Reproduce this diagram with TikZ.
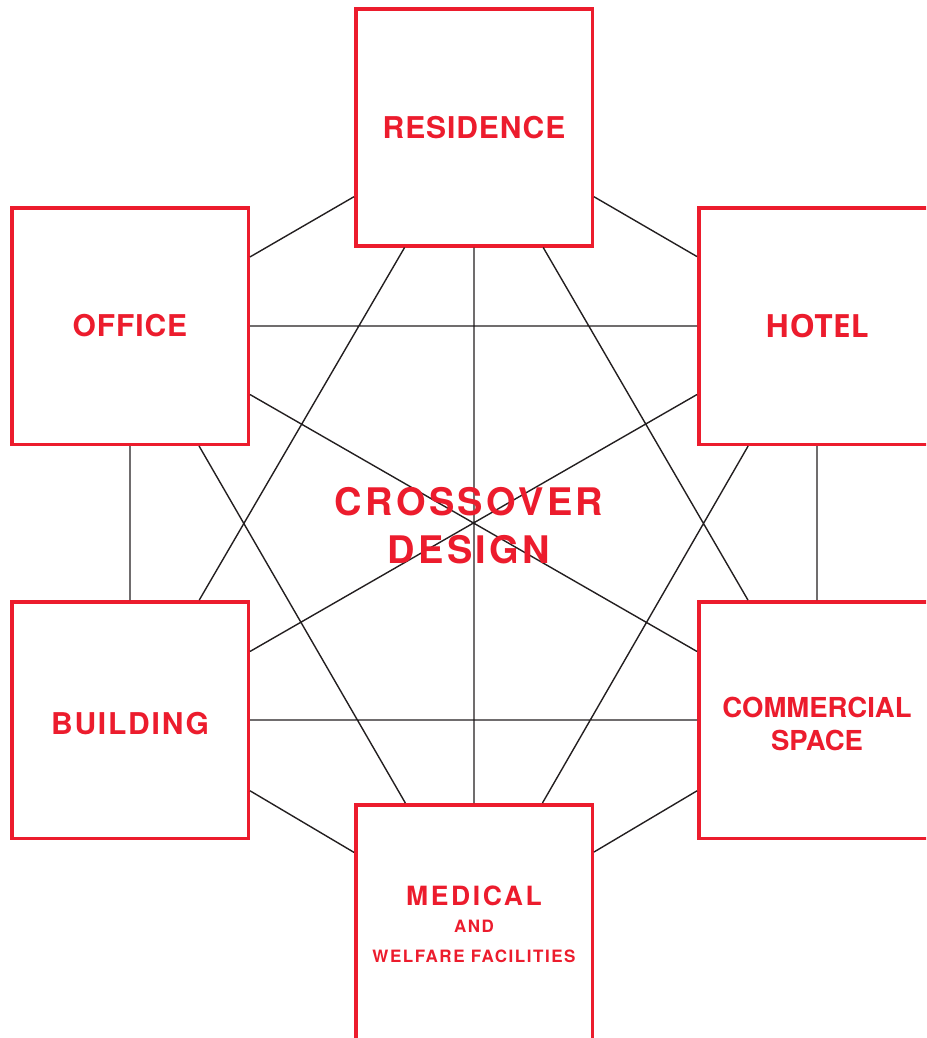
\documentclass[tikz,border=0pt]{standalone}
\usepackage{fontspec}
\setmainfont{TeX Gyre Heros}[LetterSpace=3]
\newfontfamily\hotelfont{Open Sans}
\definecolor{crossred}{HTML}{EC1C2D}
\definecolor{linkgray}{HTML}{231F20}

\begin{document}
\begin{tikzpicture}[x=1pt,y=-1pt,
    room/.style={rectangle,draw=crossred,line width=3.5pt,minimum width=236.5pt,minimum height=236.5pt,inner sep=0pt,text=crossred,align=center},
    link/.style={draw=linkgray,line width=1.4pt}]

    \useasboundingbox (0,0) rectangle (926,1038);
    \clip (0,0) rectangle (926,1038);

    \path
    (474,127.5) node[room,font=\fontsize{30}{36}\selectfont\bfseries] (res) {RESIDENCE}
    (130,326)   node[room,font=\fontsize{30}{36}\selectfont\bfseries] (off) {OFFICE}
    (817,326)   node[room,font=\hotelfont\fontsize{32}{36}\selectfont\bfseries] (hot) {HOTEL}
    (130,720)   node[room,text height=30pt,font=\fontsize{30}{36}\selectfont\bfseries\addfontfeatures{LetterSpace=6}] (bld) {BUILDING}
    (817,720)   node[room,font=\fontsize{27.5}{33}\selectfont\bfseries\addfontfeatures{LetterSpace=0}] (com) {\rule{0pt}{28pt}COMMERCIAL\\SPACE}
    (474,923)   node[room,font=\fontsize{17}{27}\selectfont\bfseries\addfontfeatures{LetterSpace=9}] (med)
        {{\fontsize{26.5}{27}\selectfont\addfontfeatures{LetterSpace=10}\rule{0pt}{23pt}MEDICAL}\\AND\\[3pt]WELFARE FACILITIES};

    \draw[link] (res)--(off) (res)--(hot) (res)--(bld) (res)--(com) (res)--(med)
                (off)--(hot) (off)--(bld) (off)--(com) (off)--(med)
                (hot)--(bld) (hot)--(com) (hot)--(med)
                (bld)--(com) (bld)--(med)
                (com)--(med);

    \node[text=crossred,align=center,font=\fontsize{38}{48}\selectfont\bfseries\addfontfeatures{LetterSpace=9}] (cross) at (469,525.5)
        {CROSSOVER\\DESIGN};

\end{tikzpicture}
\end{document}
